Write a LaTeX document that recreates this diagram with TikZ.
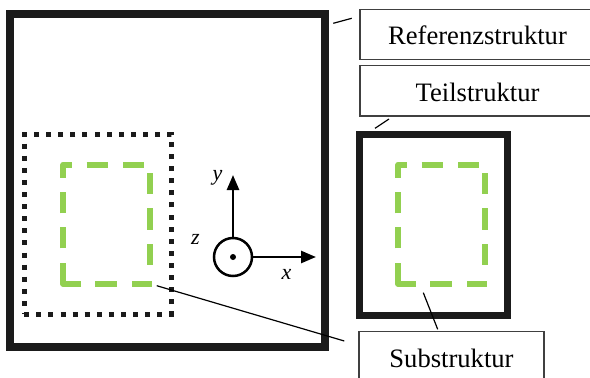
\documentclass[tikz,border=0pt]{standalone}
\usepackage{fontspec}
\setmainfont{Liberation Serif}
\usetikzlibrary{arrows.meta}
\definecolor{framegray}{HTML}{1B1B1B}
\definecolor{leafgreen}{HTML}{92D050}
\definecolor{boxgray}{HTML}{404040}

\tikzset{
  thickframe/.style={draw=framegray, rectangle, inner sep=0pt, line width=#1},
  dotframe/.style={draw=framegray, rectangle, inner sep=0pt, line width=5pt,
    dash pattern=on 5pt off 7.1pt},
  labelbox/.style={draw=boxgray, rectangle, line width=1.2pt, inner sep=0pt,
    font=\fontsize{26.6}{30}\selectfont, text height=21pt, text depth=0pt},
  leader/.style={draw=black, line width=1.2pt},
  greendash/.style={draw=leafgreen, line width=6pt, line cap=butt, line join=round},
  axisarrow/.style={draw=black, line width=2.5pt,
    -{Triangle[width=12pt,length=15pt]}},
  axlabel/.style={font=\fontsize{22}{26}\selectfont\itshape, inner sep=0pt, anchor=base},
  % dashed green rectangle, 86.7 x 119.3, origin at its top-left corner
  greenbox/.pic={
    \draw[greendash] (0,13) -- (0,0) -- (8.4,0);
    \draw[greendash] (23.4,0) -- (45,0) (60,0) -- (81,0);
    \draw[greendash] (86.7,8.6) -- (86.7,29.6) (86.7,43.6) -- (86.7,65.3)
                     (86.7,79.6) -- (86.7,100.3);
    \draw[greendash] (88.4,119.3) -- (68.4,119.3) (53.4,119.3) -- (31.7,119.3);
    \draw[greendash] (17.7,119.3) -- (0,119.3) -- (0,98.6);
    \draw[greendash] (0,83.6) -- (0,62) (0,48.6) -- (0,27);
  }
}

\begin{document}
\begin{tikzpicture}[x=1pt,y=-1pt]
  \useasboundingbox (0,0) rectangle (590,378);
  \clip (0,0) rectangle (590,378);

  % structures
  \node[thickframe=8pt, minimum width=315pt, minimum height=333pt] (ref) at (167.5,180.5) {};
  \node[dotframe, minimum width=147.3pt, minimum height=180pt] (part) at (97.85,224.2) {};
  \node[thickframe=7pt, minimum width=147.5pt, minimum height=180.5pt] (teil) at (433.25,224.75) {};
  \pic (subL) at (63.3,164.7) {greenbox};
  \pic (subR) at (398.3,164.7) {greenbox};

  % coordinate system
  \node[circle, draw=black, line width=2.5pt, minimum size=38pt, inner sep=0pt] (zax) at (233,257) {};
  \node[circle, fill=black, minimum size=6pt, inner sep=0pt] (zdot) at (zax.center) {};
  \coordinate (ytip) at (233,175);
  \coordinate (xtip) at (316,257);
  \draw[axisarrow] (zax.north) -- (ytip);
  \draw[axisarrow] (zax.east) -- (xtip);
  \node[axlabel] (ylab) at (217.5,180) {y};
  \node[axlabel] (zlab) at (195.5,244) {z};
  \node[axlabel] (xlab) at (286.5,279) {x};

  % labels
  \node[labelbox, minimum width=235pt, minimum height=50pt] (refbox) at (477.5,34.3) {Referenzstruktur};
  \node[labelbox, minimum width=235pt, minimum height=50.7pt] (teilbox) at (477.5,90.65) {Teilstruktur};
  \node[labelbox, minimum width=185pt, minimum height=50pt] (subbox) at (451.5,356.7) {Substruktur};

  % leader lines
  \coordinate (refA) at (333.3,23.3);  \coordinate (refB) at (351.7,18.3);
  \coordinate (teilA) at (375,128.3);  \coordinate (teilB) at (389,119);
  \coordinate (subA) at (156.7,285.7); \coordinate (subB) at (344.3,341);
  \coordinate (subC) at (423.3,292.7); \coordinate (subD) at (437.7,329.3);
  \draw[leader] (refA) -- (refB);
  \draw[leader] (teilA) -- (teilB);
  \draw[leader] (subA) -- (subB);
  \draw[leader] (subC) -- (subD);
\end{tikzpicture}
\end{document}
